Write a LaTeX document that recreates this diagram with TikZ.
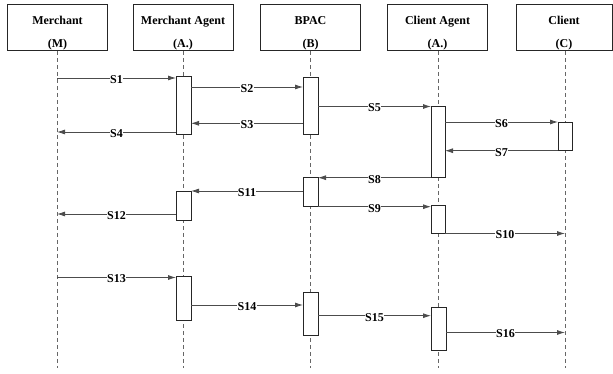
\documentclass[tikz,border=0pt]{standalone}
\usepackage{fontspec}
\setmainfont{Liberation Serif}
\usetikzlibrary{arrows.meta,calc}
\newcommand{\hdrtext}[2]{\raisebox{-3.5pt}[\height][\depth]{\begin{tabular}{@{}c@{}}#1\\#2\end{tabular}}}
\begin{document}
\begin{tikzpicture}[x=1pt,y=-1pt,
  hdr/.style={draw=black!85,line width=0.7pt,minimum width=100pt,minimum height=45pt,inner sep=0pt,
    align=center,font=\fontsize{12}{23}\selectfont\bfseries},
  life/.style={draw=black!60,line width=0.8pt,dash pattern=on 4pt off 3pt},
  act/.style={draw=black!85,fill=white,line width=0.8pt,minimum width=15pt,inner sep=0pt,outer sep=0pt},
  msg/.style={draw=black!70,line width=0.8pt,-{Latex[length=8pt,width=5pt]}},
  lbl/.style={midway,fill=white,inner sep=0.3pt,yshift=-1.5pt,font=\fontsize{12}{12}\selectfont\bfseries}
]
\useasboundingbox (0,0) rectangle (613,374);
% headers
\node[hdr] (hm) at (57.5,27.5) {\hdrtext{Merchant}{(M)}};
\node[hdr] (hma) at (183,27.5) {\hdrtext{Merchant Agent}{(A.)}};
\node[hdr] (hb) at (310.5,27.5) {\hdrtext{BPAC}{(B)}};
\node[hdr] (hca) at (437.5,27.5) {\hdrtext{Client Agent}{(A.)}};
\node[hdr,minimum width=96pt] (hc) at (564,27.5) {\hdrtext{Client}{(C)}};
% lifeline ends
\coordinate (em) at (57,368);
\coordinate (ema) at (183.5,368);
\coordinate (eb) at (310.5,368);
\coordinate (eca) at (438,368);
\coordinate (ec) at (565,368);
\draw[life] (hm.south -| em) -- (em);
\draw[life] (hma.south -| ema) -- (ema);
\draw[life] (hb.south -| eb) -- (eb);
\draw[life] (hca.south -| eca) -- (eca);
\draw[life] (hc.south -| ec) -- (ec);
% activation boxes
\node[act,minimum height=57.3pt] (ma1) at (183.5,105.4) {};
\node[act,minimum height=57pt] (bp1) at (310.5,105.5) {};
\node[act,minimum height=71.2pt,minimum width=14pt] (ca1) at (438,142.1) {};
\node[act,minimum height=28.7pt,minimum width=14pt] (c1) at (565,136.35) {};
\node[act,minimum height=29pt] (bp2) at (310.5,192.2) {};
\node[act,minimum height=29pt] (ma2) at (183.5,205.5) {};
\node[act,minimum height=28.5pt,minimum width=14pt] (ca2) at (438,219.25) {};
\node[act,minimum height=44pt] (ma3) at (183.5,298.7) {};
\node[act,minimum height=43pt] (bp3) at (310.5,313.8) {};
\node[act,minimum height=43pt] (ca3) at (438.5,328.8) {};
% message anchors on lifelines
\coordinate (m1) at (57,78);
\coordinate (m4) at (57,132);
\coordinate (m12) at (57,214);
\coordinate (m13) at (57,277.5);
\coordinate (c10) at (565,233.5);
\coordinate (c16) at (565,332.5);
% messages
\draw[msg] (m1) -- (ma1.west |- m1) node[lbl] {S1};
\draw[msg] (ma1.east |- 0,87) -- (bp1.west |- 0,87) node[lbl] {S2};
\draw[msg] (bp1.west |- 0,123.3) -- (ma1.east |- 0,123.3) node[lbl] {S3};
\draw[msg] (ma1.west |- m4) -- (m4) node[lbl] {S4};
\draw[msg] (bp1.east |- ca1.north) -- (ca1.north west) node[lbl] {S5};
\draw[msg] (ca1.east |- c1.north) -- (c1.north west) node[lbl] {S6};
\draw[msg] (c1.south west) -- (ca1.east |- c1.south) node[lbl] {S7};
\draw[msg] (ca1.south west) -- (bp2.east |- ca1.south) node[lbl] {S8};
\draw[msg] (bp2.south east) -- (ca2.west |- bp2.south) node[lbl] {S9};
\draw[msg] (ca2.south east) -- (c10 |- ca2.south) node[lbl] {S10};
\draw[msg] (bp2.west |- ma2.north) -- (ma2.north east) node[lbl] {S11};
\draw[msg] (ma2.west |- m12) -- (m12) node[lbl] {S12};
\draw[msg] (m13) -- (ma3.west |- m13) node[lbl] {S13};
\draw[msg] (ma3.east |- 0,305) -- (bp3.west |- 0,305) node[lbl] {S14};
\draw[msg] (bp3.east |- 0,315.7) -- (ca3.west |- 0,315.7) node[lbl] {S15};
\draw[msg] (ca3.east |- c16) -- (c16) node[lbl] {S16};
\end{tikzpicture}
\end{document}
